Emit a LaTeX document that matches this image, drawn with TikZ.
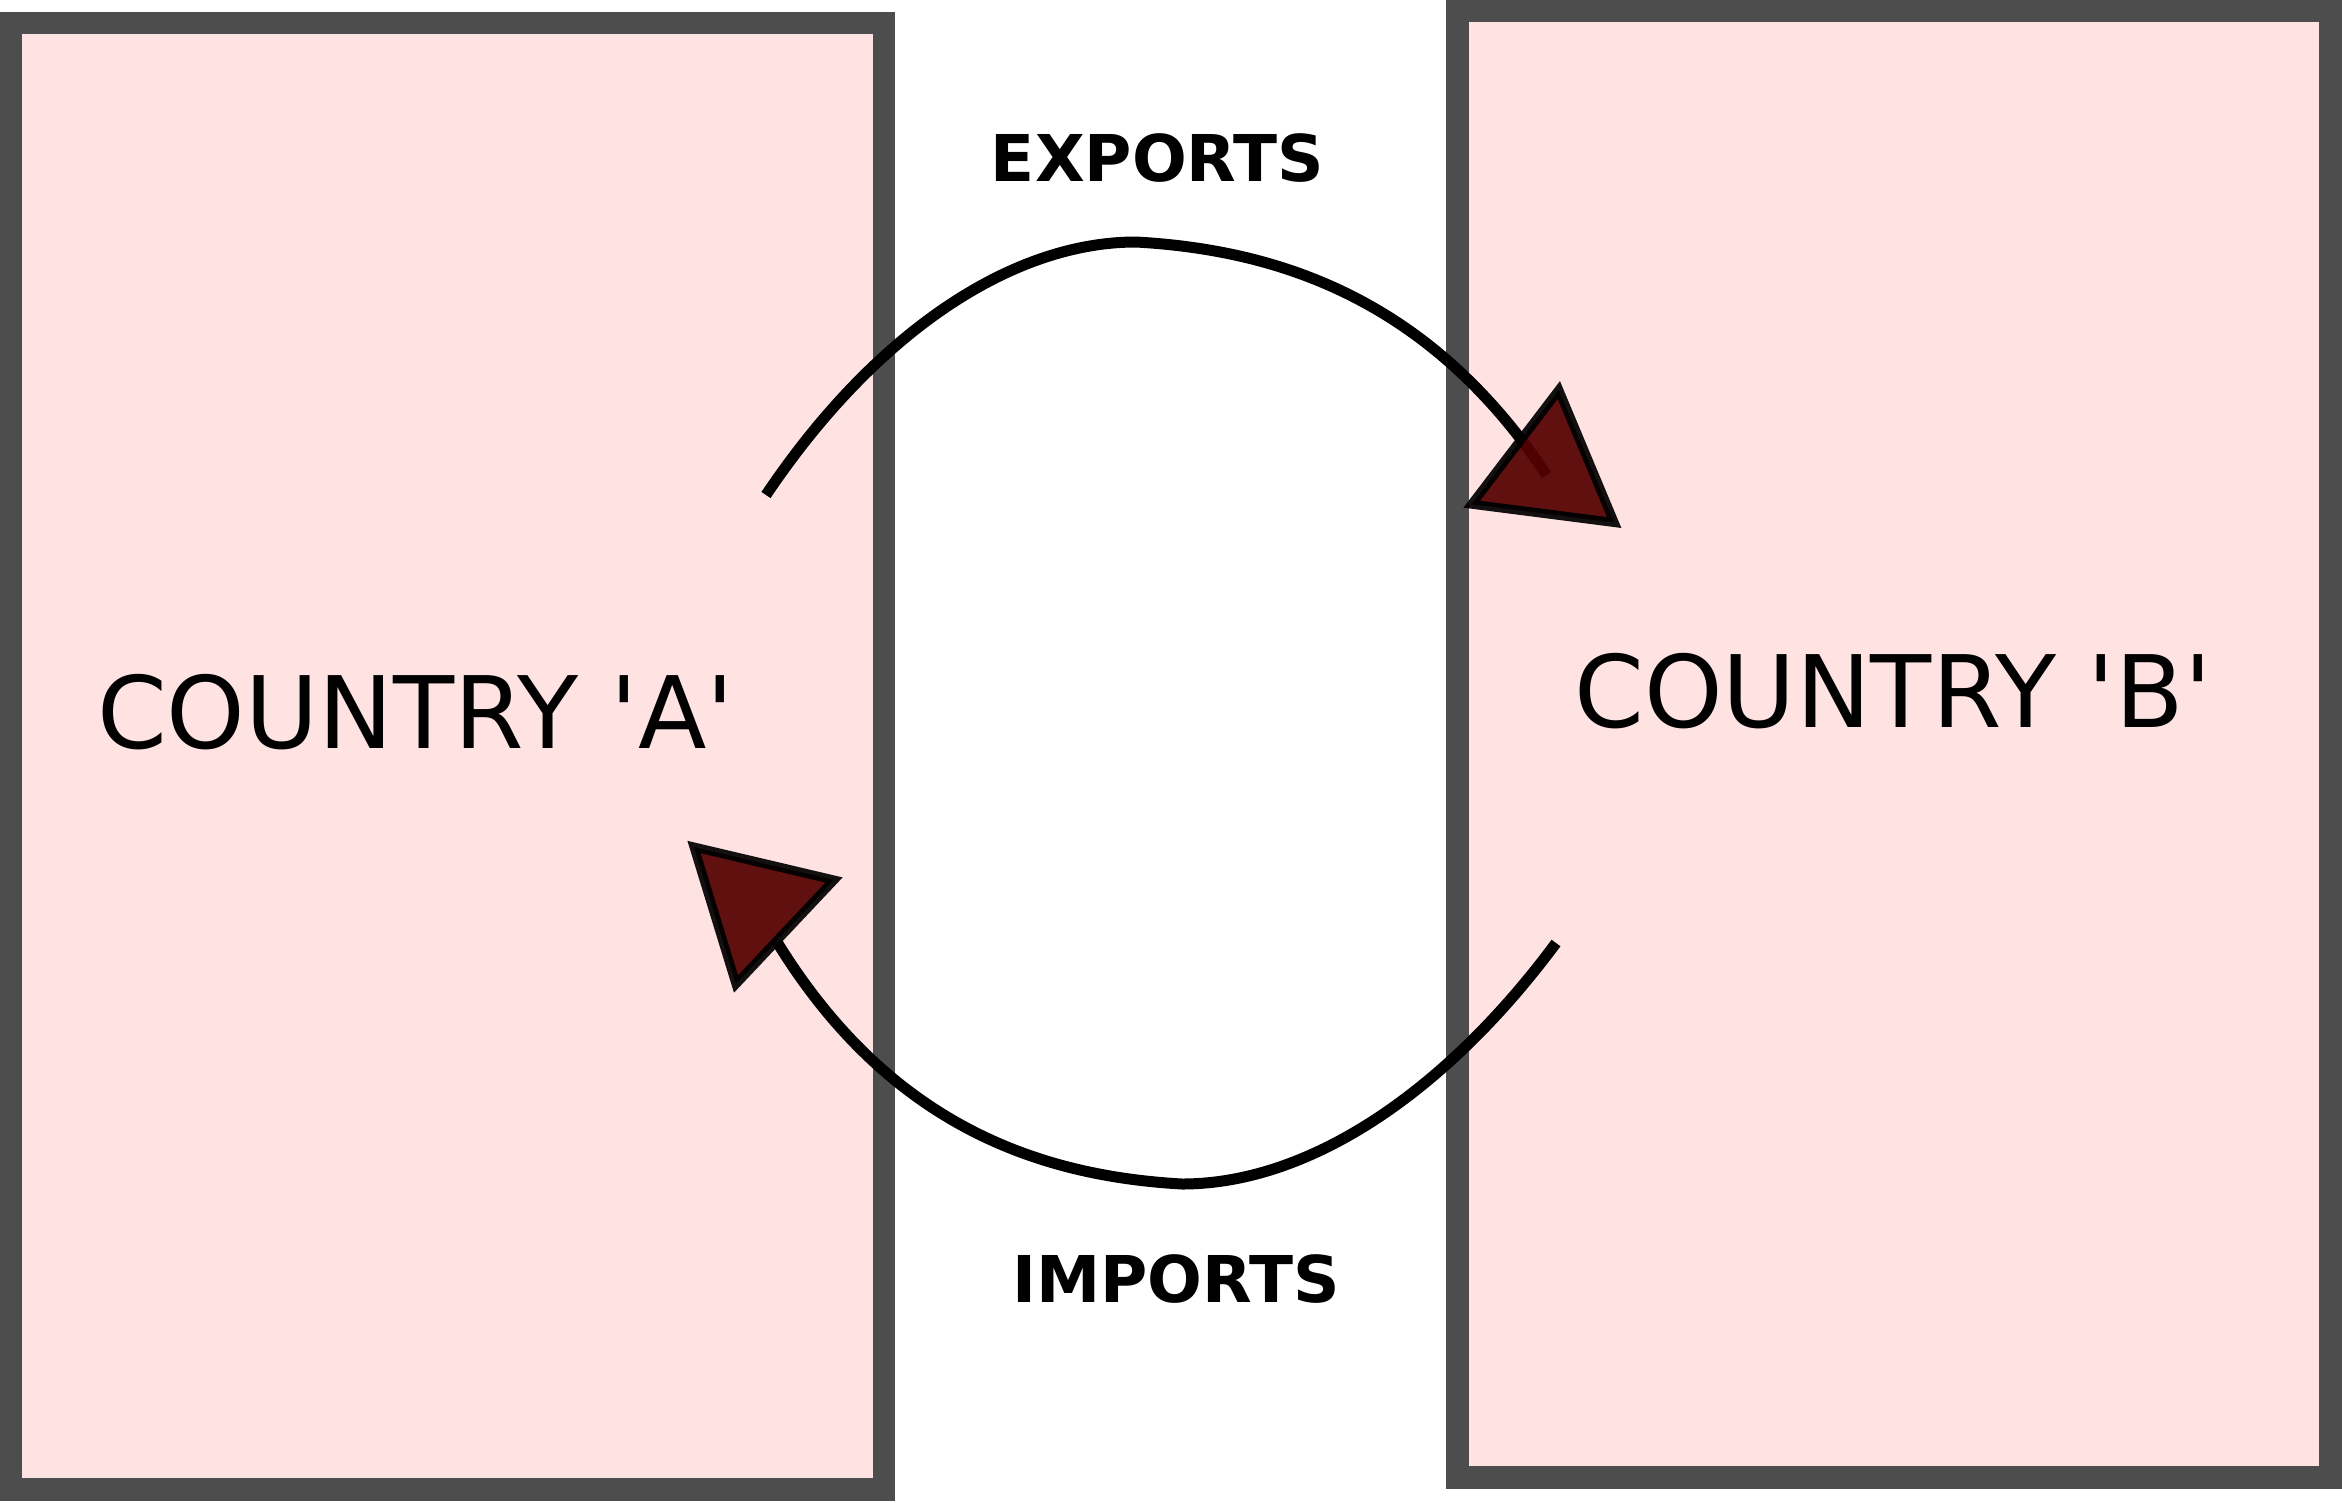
\documentclass[tikz,border=0pt]{standalone}
\usepackage{fontspec}
\setmainfont{DejaVu Sans}
\definecolor{boxfill}{HTML}{FFE3E3}
\definecolor{boxline}{HTML}{4D4D4D}
\definecolor{headfill}{HTML}{560000}
\begin{document}
\begin{tikzpicture}[x=1pt,y=-1pt,
  countrybox/.style={rectangle, draw=boxline, fill=boxfill, line width=22.5pt,
    minimum width=873pt, minimum height=1466.5pt, inner sep=0pt, outer sep=0pt},
  countrytext/.style={anchor=base, inner sep=0pt, font=\fontsize{100}{120}\selectfont},
  flowtext/.style={anchor=base, inner sep=0pt, font=\fontsize{64.5}{78}\selectfont\bfseries},
  flow/.style={draw=black, line width=11pt, line cap=butt},
  arrowhead/.style={fill=headfill, draw=black, opacity=0.93, line width=9pt, line join=miter}]
\useasboundingbox (0,0) rectangle (2342,1502);
% country boxes
\node[countrybox] (boxA) at (447.5,756.25) {};
\node[countrybox] (boxB) at (1894,744.25) {};
% labels
\node[countrytext] (labA) at (415.5,748) {COUNTRY \textquotesingle A\textquotesingle};
\node[countrytext] (labB) at (1893,727.3) {COUNTRY \textquotesingle B\textquotesingle};
\node[flowtext] (exports) at (1157.5,181) {EXPORTS};
\node[flowtext] (imports) at (1176,1302.7) {IMPORTS};
% exports curve
\coordinate (exS) at (766,495);
\coordinate (exP) at (1136,242);
\coordinate (exE) at (1546.5,475);
\draw[flow] (exS) .. controls (870,340) and (1006,242) .. (exP)
            .. controls (1280,250) and (1430,300) .. (exE);
% imports curve
\coordinate (imS) at (1556,943);
\coordinate (imP) at (1182,1184);
\coordinate (imE) at (777,942);
\draw[flow] (imS) .. controls (1450,1086) and (1314,1184) .. (imP)
            .. controls (1040,1176) and (890,1126) .. (imE);
% arrow heads
\draw[arrowhead] (1471.7,504.2) -- (1558.8,390) -- (1614.2,522.5) -- cycle;
\draw[arrowhead] (694,847) -- (834,880) -- (736,984) -- cycle;
\end{tikzpicture}
\end{document}
